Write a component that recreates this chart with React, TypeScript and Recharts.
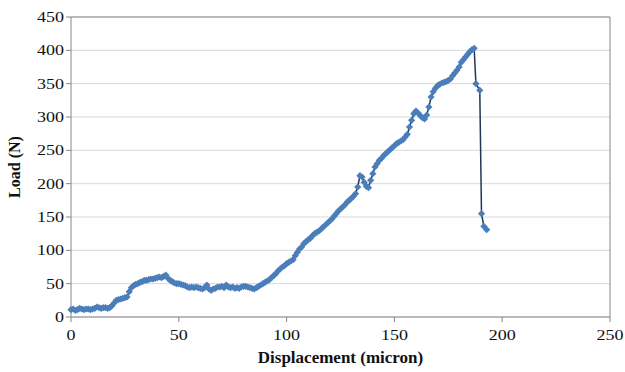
import React from "react";
import { LineChart, Line, XAxis, YAxis, CartesianGrid, ReferenceLine, Label } from "recharts";

const displacement: number[] = [
  0, 1, 2, 3, 4, 5, 6, 7, 8, 9, 10, 11, 12, 13, 14, 15, 16, 17, 18, 19,
  20, 21, 22, 23, 24, 25, 26, 27, 28, 29, 30, 31, 32, 33, 34, 35, 36, 37, 38, 39,
  40, 41, 42, 43, 44, 45, 46, 47, 48, 49, 50, 51, 52, 53, 54, 55, 56, 57, 58, 59,
  60, 61, 62, 63, 64, 65, 66, 67, 68, 69, 70, 71, 72, 73, 74, 75, 76, 77, 78, 79,
  80, 81, 82, 83, 84, 85, 86, 87, 88, 89, 90, 91, 92, 93, 94, 95, 96, 97, 98, 99,
  100, 101, 102, 103, 104, 105, 106, 107, 108, 109, 110, 111, 112, 113, 114, 115, 116, 117, 118, 119,
  120, 121, 122, 123, 124, 125, 126, 127, 128, 129, 130, 131, 132, 133, 134, 135, 136, 137, 138, 139,
  140, 141, 142, 143, 144, 145, 146, 147, 148, 149, 150, 151, 152, 153, 154, 155, 156, 157, 158, 159,
  160, 161, 162, 163, 164, 165, 166, 167, 168, 169, 170, 171, 172, 173, 174, 175, 176, 177, 178, 179,
  180, 181, 182, 183, 184, 185, 186, 187, 187.8, 189.6, 190.4, 191.5, 192.8,
];

const load: number[] = [
  11, 12, 10, 11, 13, 12, 11, 12, 12, 11, 12, 13, 15, 14, 13, 14, 14, 13, 14, 17,
  21, 25, 26, 27, 28, 29, 30, 38, 44, 47, 49, 50, 52, 53, 55, 55, 56, 57, 57, 58,
  59, 60, 59, 61, 63, 58, 55, 53, 51, 50, 50, 49, 48, 47, 45, 44, 45, 44, 45, 44,
  43, 42, 44, 48, 42, 40, 42, 43, 45, 45, 46, 44, 48, 45, 44, 45, 43, 44, 43, 45,
  46, 46, 45, 44, 43, 42, 44, 46, 48, 50, 52, 54, 56, 59, 62, 65, 69, 72, 75, 77,
  80, 82, 84, 86, 92, 97, 102, 105, 110, 113, 116, 118, 122, 125, 127, 129, 132, 135, 138, 141,
  144, 147, 151, 155, 159, 162, 165, 168, 172, 175, 178, 181, 185, 195, 212, 210, 202, 196, 194, 205,
  215, 225, 230, 235, 238, 242, 245, 248, 251, 254, 257, 260, 262, 264, 266, 270, 274, 285, 295, 305,
  309, 306, 302, 299, 297, 303, 315, 330, 338, 343, 347, 349, 351, 352, 353, 355, 357, 362, 366, 370,
  375, 382, 386, 390, 394, 398, 401, 403, 350, 340, 155, 136, 131,
];

const xTicks: number[] = [0, 50, 100, 150, 200, 250];
const yTicks: number[] = [0, 50, 100, 150, 200, 250, 300, 350, 400, 450];

const data = displacement.map((d, i) => ({ x: d, y: load[i] }));

const SERIF = "Liberation Serif, serif";

const Diamond = (props: any) => {
  const { cx, cy, index } = props;
  if (cx == null || cy == null) return <g key={`d-${index}`} />;
  const r = 3.6;
  return (
    <path
      key={`d-${index}`}
      d={`M${cx},${cy - r}L${cx + r},${cy}L${cx},${cy + r}L${cx - r},${cy}Z`}
      fill="#4A7EBB"
      stroke="none"
    />
  );
};

const renderXTick = (props: any) => {
  const { x, y, payload, index } = props;
  const s = String(payload.value);
  return (
    <text
      key={`xt-${index}`}
      x={x}
      y={y}
      dy={11}
      textAnchor="middle"
      fontFamily={SERIF}
      fontSize={15}
      fill="#111"
      textLength={9 * s.length}
      lengthAdjust="spacingAndGlyphs"
    >
      {s}
    </text>
  );
};

const renderYTick = (props: any) => {
  const { x, y, payload, index } = props;
  const s = String(payload.value);
  return (
    <text
      key={`yt-${index}`}
      x={x}
      y={y}
      dy={5}
      textAnchor="end"
      fontFamily={SERIF}
      fontSize={15}
      fill="#111"
      textLength={9 * s.length}
      lengthAdjust="spacingAndGlyphs"
    >
      {s}
    </text>
  );
};

export default function App() {
  return (
    <div style={{ position: "absolute", left: 0, top: 0, width: 625, height: 372, background: "#fff", fontFamily: SERIF }}>
      <LineChart
        width={625}
        height={372}
        data={data}
        margin={{ top: 17, right: 15, bottom: 25, left: 10 }}
      >
        <CartesianGrid horizontal={true} vertical={false} stroke="#D9D9D9" strokeWidth={1} />
        <XAxis
          dataKey="x"
          type="number"
          domain={[0, 250]}
          ticks={xTicks}
          tick={renderXTick}
          tickSize={5}
          tickMargin={7}
          axisLine={{ stroke: "#868686" }}
          tickLine={{ stroke: "#868686" }}
          interval={0}
        >
          <Label
            value="Displacement (micron)"
            position="bottom"
            offset={4}
            style={{ fontFamily: SERIF, fontSize: 17, fontWeight: "bold", fill: "#111" }}
          />
        </XAxis>
        <YAxis
          type="number"
          domain={[0, 450]}
          ticks={yTicks}
          width={61}
          tick={renderYTick}
          tickSize={5}
          tickMargin={2}
          axisLine={{ stroke: "#868686" }}
          tickLine={{ stroke: "#868686" }}
          interval={0}
        >
          <Label
            value="Load (N)"
            angle={-90}
            position="insideLeft"
            offset={4}
            style={{ fontFamily: SERIF, fontSize: 16, fontWeight: "bold", fill: "#111", textAnchor: "middle" }}
          />
        </YAxis>
        <ReferenceLine y={450} stroke="#868686" strokeWidth={1} />
        <ReferenceLine x={250} stroke="#868686" strokeWidth={1} />
        <Line
          type="linear"
          dataKey="y"
          stroke="#1F3655"
          strokeWidth={1.5}
          dot={Diamond}
          activeDot={false}
          isAnimationActive={false}
        />
      </LineChart>
    </div>
  );
}
